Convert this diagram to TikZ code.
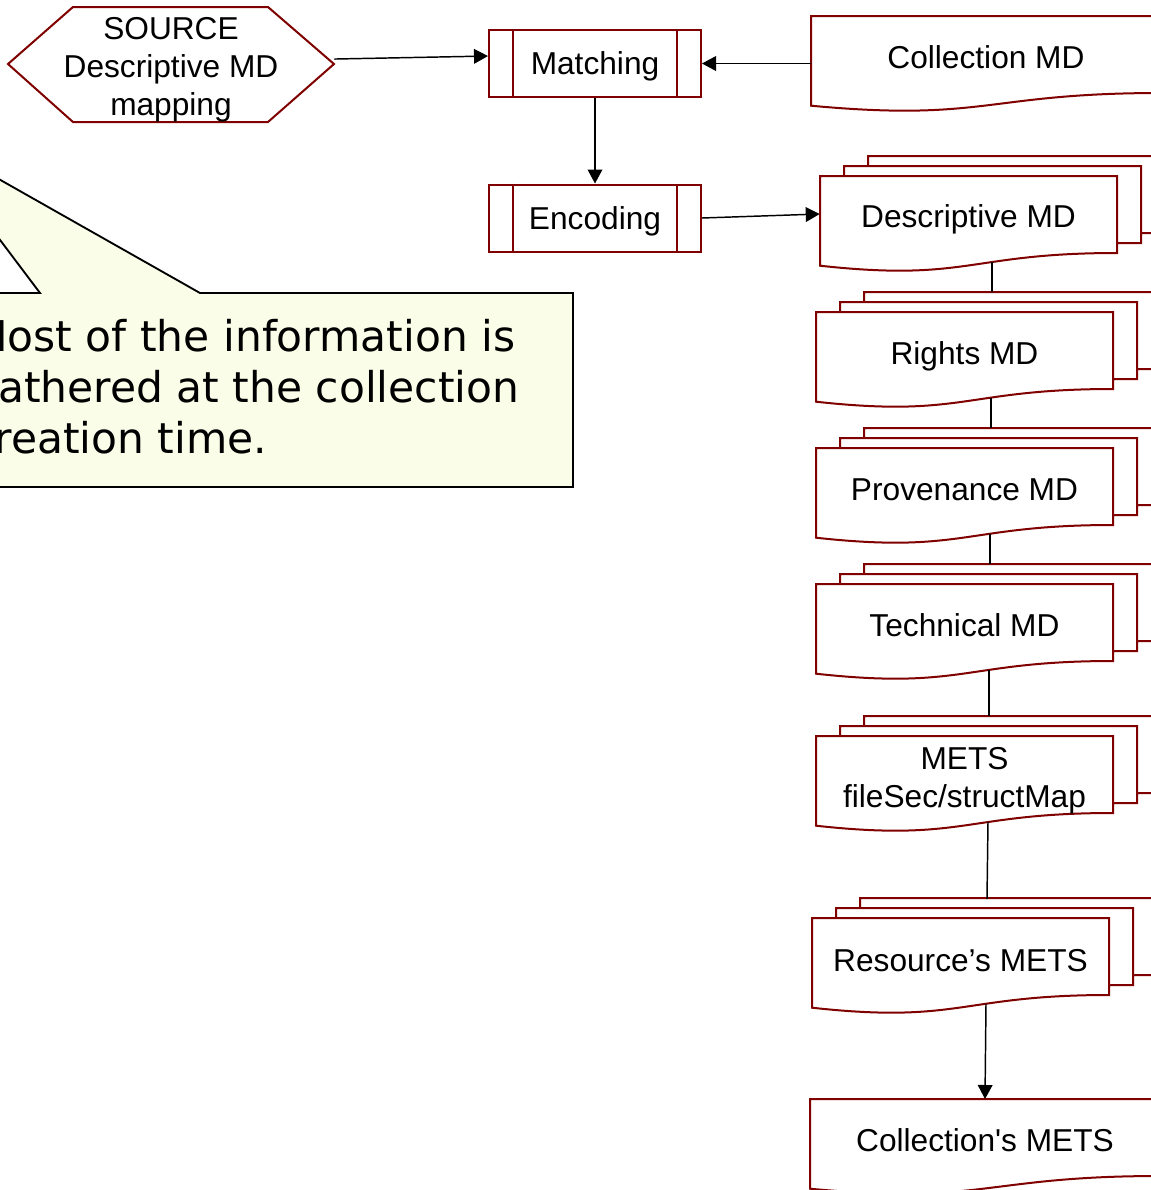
\documentclass[tikz,border=0pt]{standalone}
\usepackage{fontspec}
\setmainfont{Liberation Sans}
\newfontfamily\notefont{DejaVu Sans}
\usetikzlibrary{arrows.meta}
\definecolor{boxred}{RGB}{128,0,0}
\definecolor{notefill}{RGB}{250,253,232}
% document shape: x, y (top left), width
\newcommand{\mddoc}[3]{%
  \draw[docline] (#1,#2) -- (#1+#3,#2) -- (#1+#3,#2+77)
    .. controls (#1+0.5*#3,#2+77) and (#1+0.5*#3,#2+106) .. (#1,#2+89.7) -- cycle;}
% three stacked documents, front one at x, y
\newcommand{\mdstack}[2]{%
  \mddoc{#1+48}{#2-20}{297}
  \mddoc{#1+24}{#2-10}{297}
  \mddoc{#1}{#2}{297}}

\begin{document}
\begin{tikzpicture}[x=0.75pt,y=-0.75pt,
  docline/.style={draw=boxred,line width=1.5pt,fill=white},
  mdtext/.style={font=\fontsize{23.75}{28.5}\selectfont,align=center,inner sep=0pt,text depth=0pt,minimum width=222.75pt,minimum height=57.75pt},
  procbox/.style={mdtext,draw=boxred,line width=1.5pt,fill=white,minimum width=159pt,minimum height=50.25pt},
  notebox/.style={draw=black,line width=1.4pt,fill=notefill},
  conn/.style={black,line width=1.1pt},
  arr/.style={conn,-{Triangle[length=10.5pt,width=11pt]}}]
\clip (0,0) rectangle (1151,1190);
\fill[white] (0,0) rectangle (1151,1190);

% callout
\draw[notebox] (-100,293) -- (40,293) -- (-79,135) -- (200,293) -- (573,293) -- (573,487) -- (-100,487) -- cycle;
\node[font=\notefont\fontsize{31.8}{38.2}\selectfont,anchor=west,align=left,inner sep=0pt] (note) at (-29,387) {Most of the information is\\gathered at the collection\\creation time.};

% source
\draw[docline] (8,64) -- (73,7) -- (268,7) -- (334,64) -- (268,122) -- (73,122) -- cycle;
\node[mdtext,minimum width=244.5pt,minimum height=86.25pt] (source) at (171,66.5) {SOURCE\\Descriptive MD\\mapping};

% processes
\node[procbox] (match) at (595,63.5) {Matching};
\draw[boxred,line width=1.5pt] ([xshift=18.75pt]match.north west) -- ([xshift=18.75pt]match.south west);
\draw[boxred,line width=1.5pt] ([xshift=-18.75pt]match.north east) -- ([xshift=-18.75pt]match.south east);
\node[procbox] (enc) at (595,218) {Encoding};
\draw[boxred,line width=1.5pt] ([xshift=18.75pt]enc.north west) -- ([xshift=18.75pt]enc.south west);
\draw[boxred,line width=1.5pt] ([xshift=-18.75pt]enc.north east) -- ([xshift=-18.75pt]enc.south east);

% collection MD
\mddoc{811}{16}{350}
\node[mdtext,minimum width=262.5pt] (collmd) at (986,57) {Collection MD};

% metadata stacks
\mdstack{820}{176}
\node[mdtext] (desc) at (968.5,216) {Descriptive MD};
\mdstack{816}{312}
\node[mdtext] (rights) at (964.5,353) {Rights MD};
\mdstack{816}{448}
\node[mdtext] (prov) at (964.5,489.5) {Provenance MD};
\mdstack{816}{584}
\node[mdtext] (tech) at (964.5,625.5) {Technical MD};
\mdstack{816}{736}
\node[mdtext] (mets) at (964.5,777) {METS\\fileSec/structMap};
\mdstack{812}{918}
\node[mdtext] (res) at (960.5,960) {Resource’s METS};

\mddoc{810}{1099}{350}
\node[mdtext,minimum width=262.5pt] (collm) at (985,1140) {Collection\textquotesingle s METS};

% connectors
\coordinate (desc-out) at (992,262);
\coordinate (rights-in) at (992,292);
\coordinate (rights-out) at (991,398);
\coordinate (prov-in) at (991,428);
\coordinate (prov-out) at (990,534);
\coordinate (tech-in) at (990,564);
\coordinate (tech-out) at (989,670);
\coordinate (mets-in) at (989,716);
\coordinate (mets-out) at (988,822);
\coordinate (res-in) at (987,899);
\coordinate (res-out) at (986,1004);
\coordinate (collm-in) at (985,1099);

\draw[arr] ([yshift=5.6pt]source.east) -- ([yshift=5.6pt]match.west);
\draw[arr] (collmd.west |- match.east) -- (match.east);
\draw[arr] (match.south) -- (enc.north);
\draw[arr] (enc.east) -- ([yshift=1.5pt]desc.west);
\draw[conn] (desc-out) -- (rights-in);
\draw[conn] (rights-out) -- (prov-in);
\draw[conn] (prov-out) -- (tech-in);
\draw[conn] (tech-out) -- (mets-in);
\draw[conn] (mets-out) -- (res-in);
\draw[arr] (res-out) -- (collm-in);
\end{tikzpicture}
\end{document}
